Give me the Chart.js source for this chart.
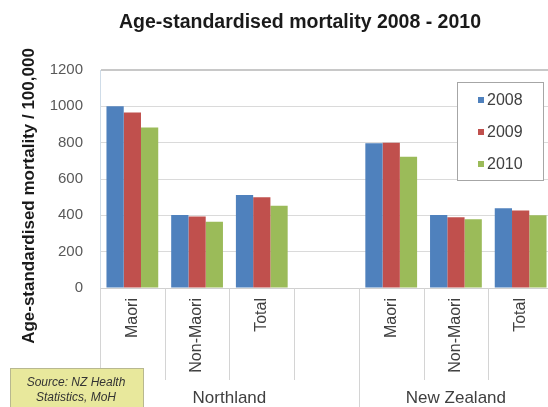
<!DOCTYPE html>
<html>
<head>
<meta charset="utf-8">
<script src="https://cdn.jsdelivr.net/npm/chart.js@4/dist/chart.umd.min.js"></script>
<style>
  html, body { margin: 0; padding: 0; background: #fff; overflow: hidden; }
  #wrap { width: 600px; height: 407px; }
</style>
</head>
<body>
<div id="wrap"><canvas id="c" width="600" height="407"></canvas></div>
<script>
// Categories (the empty slot separates the two regions)
const categories = ['Maori', 'Non-Maori', 'Total', '', 'Maori', 'Non-Maori', 'Total'];
// Region labels and how many categories each spans
const regions = ['Northland', 'New Zealand'];
const regionSpans = [4, 3];
// Series (deaths per 100,000, age-standardised)
const years = ['2008', '2009', '2010'];
const v2008 = [1000, 402, 512, null, 797, 402, 439];
const v2009 = [966, 393, 500, null, 800, 389, 426];
const v2010 = [883, 365, 453, null, 723, 378, 400];
// Value axis ticks
const yTicks = [0, 200, 400, 600, 800, 1000, 1200];

const titleText = 'Age-standardised mortality 2008 - 2010';
const yTitleText = 'Age-standardised mortality / 100,000';
const sourceLines = ['Source: NZ Health', 'Statistics, MoH'];

const FONT = '"Liberation Sans", Arial, sans-serif';
const colors = ['#4F81BD', '#C0504D', '#9BBB59'];

const decor = {
  id: 'decor',
  beforeDatasetsDraw(chart) {
    const ctx = chart.ctx;
    const x = chart.scales.x;
    const area = chart.chartArea;
    ctx.save();
    ctx.strokeStyle = '#D4D4D4';
    ctx.lineWidth = 1;
    // category separators below the axis; region edges run to the bottom
    const groupEdges = [0];
    let acc = 0;
    regionSpans.forEach(s => { acc += s; groupEdges.push(acc); });
    for (let i = 0; i <= categories.length; i++) {
      const px = Math.round(x.getPixelForValue(i - 0.5)) + 0.5;
      const full = groupEdges.includes(i);
      ctx.beginPath();
      ctx.moveTo(px, area.bottom);
      ctx.lineTo(px, full ? chart.height : area.bottom + 92);
      ctx.stroke();
    }
    ctx.restore();
  },
  afterDraw(chart) {
    const ctx = chart.ctx;
    const x = chart.scales.x;
    ctx.save();
    // chart title
    ctx.fillStyle = '#1a1a1a';
    ctx.font = 'bold 19.5px ' + FONT;
    ctx.textAlign = 'center';
    ctx.textBaseline = 'middle';
    ctx.fillText(titleText, 300, 23);

    // value axis title
    ctx.save();
    ctx.translate(29, 196);
    ctx.rotate(-Math.PI / 2);
    ctx.font = 'bold 17px ' + FONT;
    ctx.fillText(yTitleText, 0, 0);
    ctx.restore();

    // region labels
    ctx.font = '17px ' + FONT;
    ctx.fillStyle = '#404040';
    let start = 0;
    regions.forEach((r, k) => {
      const end = start + regionSpans[k];
      const cx = (x.getPixelForValue(start - 0.5) + x.getPixelForValue(end - 0.5)) / 2;
      ctx.fillText(r, cx, 398);
      start = end;
    });

    // legend box
    ctx.fillStyle = '#ffffff';
    ctx.fillRect(457, 82, 86, 98);
    ctx.strokeStyle = '#A6A6A6';
    ctx.lineWidth = 1;
    ctx.strokeRect(457.5, 82.5, 86, 98);
    ctx.font = '16px ' + FONT;
    ctx.textAlign = 'left';
    chart.data.datasets.forEach((ds, i) => {
      const cy = 100 + i * 32;
      ctx.fillStyle = ds.backgroundColor;
      ctx.fillRect(478, cy - 3, 6, 6);
      ctx.fillStyle = '#404040';
      ctx.fillText(ds.label, 487, cy + 1);
    });

    // source note
    ctx.fillStyle = '#E8E89C';
    ctx.fillRect(10, 368, 133, 45);
    ctx.strokeStyle = '#B8B890';
    ctx.strokeRect(10.5, 368.5, 133, 45);
    ctx.fillStyle = '#333333';
    ctx.font = 'italic 12px ' + FONT;
    ctx.textAlign = 'center';
    sourceLines.forEach((t, i) => ctx.fillText(t, 76, 383 + i * 15));
    ctx.restore();
  }
};

new Chart(document.getElementById('c'), {
  type: 'bar',
  data: {
    labels: categories,
    datasets: [
      { label: years[0], data: v2008, backgroundColor: colors[0] },
      { label: years[1], data: v2009, backgroundColor: colors[1] },
      { label: years[2], data: v2010, backgroundColor: colors[2] }
    ]
  },
  options: {
    responsive: false,
    devicePixelRatio: 1,
    animation: false,
    layout: { padding: { top: 70, right: 47, left: 0, bottom: 0 } },
    datasets: { bar: { categoryPercentage: 0.8, barPercentage: 1.0 } },
    plugins: {
      legend: { display: false },
      title: { display: false },
      tooltip: { enabled: false }
    },
    scales: {
      x: {
        grid: { display: false, drawTicks: false },
        border: { display: true, color: '#D0D0D0' },
        ticks: {
          autoSkip: false,
          minRotation: 90,
          maxRotation: 90,
          padding: 10,
          color: '#404040',
          font: { family: FONT, size: 16 }
        },
        afterFit(scale) { scale.height = 119; }
      },
      y: {
        min: 0,
        max: 1200,
        afterBuildTicks(scale) { scale.ticks = yTicks.map(v => ({ value: v })); },
        grid: {
          drawTicks: false,
          color: ctx => ctx.tick && ctx.tick.value === 1200 ? '#C8C8C8' : '#DADADA',
          lineWidth: ctx => ctx.tick && ctx.tick.value === 1200 ? 2 : 1
        },
        border: { display: true, color: '#CFDCE8' },
        ticks: {
          padding: 17,
          color: '#595959',
          font: { family: FONT, size: 15 },
          callback: v => String(v)
        },
        afterFit(scale) { scale.width = 100; }
      }
    }
  },
  plugins: [decor]
});
</script>
</body>
</html>
